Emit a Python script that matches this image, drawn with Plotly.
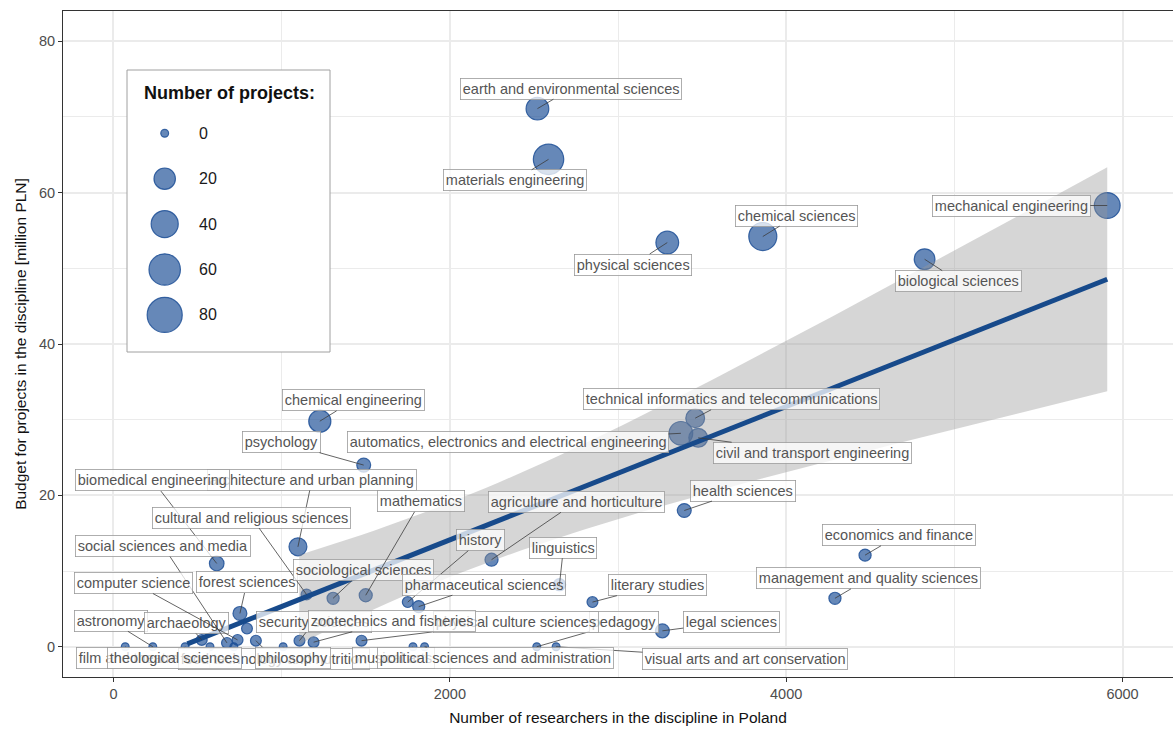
import numpy as np
import plotly.graph_objects as go

# ---------------------------------------------------------------------------
# Data: research disciplines in Poland
# (listed in the order their labels are stacked; later labels sit on top)
# ---------------------------------------------------------------------------
disciplines = [
    "film and theatre arts",
    "food technology and nutrition",
    "musical arts",
    "visual arts and art conservation",
    "theological sciences",
    "philosophy",
    "political sciences and administration",
    "architecture and urban planning",
    "biomedical engineering",
    "security sciences",
    "pedagogy",
    "physical culture sciences",
    "zootechnics and fisheries",
    "astronomy",
    "archaeology",
    "social sciences and media",
    "computer science",
    "forest sciences",
    "cultural and religious sciences",
    "sociological sciences",
    "mathematics",
    "history",
    "pharmaceutical sciences",
    "linguistics",
    "literary studies",
    "legal sciences",
    "agriculture and horticulture",
    "management and quality sciences",
    "economics and finance",
    "health sciences",
    "psychology",
    "chemical engineering",
    "automatics, electronics and electrical engineering",
    "technical informatics and telecommunications",
    "civil and transport engineering",
    "biological sciences",
    "physical sciences",
    "chemical sciences",
    "mechanical engineering",
    "materials engineering",
    "earth and environmental sciences",
    "canon law",
    "art sciences",
    "veterinary sciences",
]

researchers = [
    70, 847, 1781, 2632, 426, 1009, 1850, 1097, 614, 1106, 2517, 1475, 1190,
    234, 525, 675, 738, 752, 1148, 1306, 1500, 1750, 1815, 2652, 2848, 3264,
    2248, 4290, 4469, 3394, 1488, 1227, 3374, 3459, 3477, 4823, 3293, 3861,
    5909, 2587, 2521, 574, 716, 794,
]

budget_mln = [
    0.0, 0.8, 0.0, 0.0, 0.0, 0.0, 0.0, 13.2, 11.0, 0.8, 0.0, 0.8, 0.6,
    0.0, 0.9, 0.5, 0.9, 4.4, 6.9, 6.4, 6.8, 5.9, 5.3, 8.2, 5.9, 2.1,
    11.5, 6.4, 12.1, 18.0, 24.0, 29.8, 28.2, 30.2, 27.6, 51.2, 53.4, 54.2,
    58.3, 64.4, 71.1, 0.0, 0.0, 2.4,
]

projects = [
    0, 1, 0, 0, 0, 0, 0, 11, 5, 1, 0, 1, 1,
    0, 1, 1, 1, 4, 1, 2, 3, 1, 2, 2, 1, 4,
    3, 2, 2, 4, 4, 22, 27, 13, 13, 18, 24, 44,
    35, 55, 24, 0, 0, 1,
]

legend_counts = [0, 20, 40, 60, 80]

# Label placement: pixel offset of each label box centre from its point
label_offsets = {
    "earth and environmental sciences": (34, -20),
    "materials engineering": (-34, 21),
    "physical sciences": (-34, 22),
    "chemical sciences": (34, -21),
    "mechanical engineering": (-96, 0),
    "biological sciences": (34, 22),
    "chemical engineering": (34, -21),
    "psychology": (-82, -23),
    "automatics, electronics and electrical engineering": (-173, 9),
    "technical informatics and telecommunications": (36, -19),
    "civil and transport engineering": (114, 15),
    "biomedical engineering": (-64, -83),
    "architecture and urban planning": (14, -67),
    "cultural and religious sciences": (-55, -77),
    "mathematics": (55, -94),
    "agriculture and horticulture": (85, -58),
    "health sciences": (59, -20),
    "history": (73, -62),
    "social sciences and media": (-64, -97),
    "linguistics": (4, -37),
    "economics and finance": (34, -20),
    "sociological sciences": (30, -28),
    "management and quality sciences": (34, -20),
    "computer science": (-104, -57),
    "forest sciences": (7, -31),
    "pharmaceutical sciences": (65, -22),
    "literary studies": (65, -17),
    "astronomy": (-42, -26),
    "archaeology": (-15, -17),
    "security sciences": (15, -19),
    "zootechnics and fisheries": (78, -21),
    "physical culture sciences": (154, -19),
    "pedagogy": (87, -25),
    "legal sciences": (69, -9),
    "film and theatre arts": (18, 11),
    "theological sciences": (-11, 11),
    "philosophy": (10, 11),
    "food technology and nutrition": (18, 18),
    "musical arts": (-19, 11),
    "political sciences and administration": (71, 11),
    "visual arts and art conservation": (189, 12),
}

# ---------------------------------------------------------------------------
# Styling
# ---------------------------------------------------------------------------
FONT = "Liberation Sans, Arial, Helvetica, sans-serif"
POINT_FILL = "rgba(30,80,150,0.68)"
POINT_EDGE = "rgba(30,80,150,0.85)"
EDGE_W = 1.2
FIT_COLOR = "#174a8b"

X_LIM = (0, 6000)
Y_LIM = (0, 80)
X_RANGE = [-300, 6300]
Y_RANGE = [-4, 84]

PLOT_L, PLOT_T, PLOT_W, PLOT_H = 63, 11, 1110, 666


def bubble_diameter(n):
    """Area-style size scale: diameter grows with the square root of the count."""
    return 9.0 + 3.05 * np.sqrt(np.asarray(n, dtype=float))


def px_x(px):
    return (px - PLOT_L) / PLOT_W


def px_y(py):
    return (PLOT_T + PLOT_H - py) / PLOT_H


def t_quantile_975(df):
    """Two-sided 95% Student t quantile (Cornish-Fisher expansion)."""
    z = 1.959963984540054
    g1 = (z ** 3 + z) / 4
    g2 = (5 * z ** 5 + 16 * z ** 3 + 3 * z) / 96
    g3 = (3 * z ** 7 + 19 * z ** 5 + 17 * z ** 3 - 15 * z) / 384
    return z + g1 / df + g2 / df ** 2 + g3 / df ** 3


x = np.array(researchers, dtype=float)
y = np.array(budget_mln, dtype=float)
n_obs = len(x)

# ---------------------------------------------------------------------------
# Linear fit with 95% confidence band
# ---------------------------------------------------------------------------
slope, intercept = np.polyfit(x, y, 1)
resid = y - (intercept + slope * x)
s = np.sqrt(np.sum(resid ** 2) / (n_obs - 2))
sxx = np.sum((x - x.mean()) ** 2)
grid = np.linspace(x.min(), x.max(), 80)
fit = intercept + slope * grid
half = t_quantile_975(n_obs - 2) * s * np.sqrt(1 / n_obs + (grid - x.mean()) ** 2 / sxx)
lower, upper = fit - half, fit + half

line_ok = (fit >= Y_LIM[0]) & (fit <= Y_LIM[1])
band_ok = (lower >= Y_LIM[0]) & (upper <= Y_LIM[1])

fig = go.Figure()

fig.add_trace(go.Scatter(
    x=x, y=y, mode="markers",
    marker=dict(size=bubble_diameter(projects) - EDGE_W, color=POINT_FILL,
                opacity=1, line=dict(color=POINT_EDGE, width=EDGE_W)),
    text=disciplines, hoverinfo="text", showlegend=False,
))

gb = grid[band_ok]
fig.add_trace(go.Scatter(
    x=np.concatenate([gb, gb[::-1]]),
    y=np.concatenate([upper[band_ok], lower[band_ok][::-1]]),
    mode="lines", fill="toself", fillcolor="rgba(153,153,153,0.4)",
    line=dict(width=0), hoverinfo="skip", showlegend=False,
))

fig.add_trace(go.Scatter(
    x=grid[line_ok], y=fit[line_ok], mode="lines",
    line=dict(color=FIT_COLOR, width=5), hoverinfo="skip", showlegend=False,
))

# ---------------------------------------------------------------------------
# Repelled-style labels
# ---------------------------------------------------------------------------
annotations = []
for name, xv, yv in zip(disciplines, researchers, budget_mln):
    if name not in label_offsets:
        continue
    dx, dy = label_offsets[name]
    annotations.append(dict(
        x=xv, y=yv, xref="x", yref="y", text=name,
        showarrow=True, ax=dx, ay=dy, axref="pixel", ayref="pixel",
        arrowhead=0, arrowwidth=0.8, arrowcolor="#3c3c3c", standoff=0,
        font=dict(family=FONT, size=14.5, color="#555555"),
        bgcolor="rgba(255,255,255,0.75)", bordercolor="#9a9a9a",
        borderwidth=0.8, borderpad=2,
    ))

# ---------------------------------------------------------------------------
# Size legend
# ---------------------------------------------------------------------------
shapes = [dict(
    type="rect", xref="paper", yref="paper",
    x0=px_x(127), x1=px_x(330), y0=px_y(352), y1=px_y(70),
    fillcolor="white", line=dict(color="#a0a0a0", width=1), layer="above",
)]
annotations.append(dict(
    x=px_x(229), y=px_y(93), xref="paper", yref="paper",
    text="<b>Number of projects:</b>", showarrow=False,
    font=dict(family=FONT, size=18, color="#111111"),
    xanchor="center", yanchor="middle",
))
key_x = px_x(164.7)
for i, cnt in enumerate(legend_counts):
    ky = px_y(133.3 + 45.4 * i)
    r = (float(bubble_diameter(cnt)) - EDGE_W) / 2
    shapes.append(dict(
        type="circle", xref="paper", yref="paper",
        xsizemode="pixel", ysizemode="pixel", xanchor=key_x, yanchor=ky,
        x0=-r, x1=r, y0=-r, y1=r,
        fillcolor=POINT_FILL, line=dict(color=POINT_EDGE, width=EDGE_W),
        layer="above",
    ))
    annotations.append(dict(
        x=px_x(197), y=ky, xref="paper", yref="paper", text=str(cnt),
        showarrow=False, xanchor="left", yanchor="middle",
        font=dict(family=FONT, size=16, color="#1a1a1a"),
    ))

grid_col = "#ebebeb"
axis_common = dict(
    showline=True, linecolor="#333333", linewidth=1, mirror=True,
    ticks="outside", ticklen=4, tickwidth=1, tickcolor="#333333",
    showgrid=True, gridcolor=grid_col, gridwidth=1.5, zeroline=False,
    tickfont=dict(family=FONT, size=14.5, color="#4d4d4d"),
)

fig.update_layout(
    width=1173, height=729,
    margin=dict(l=PLOT_L, r=1173 - PLOT_L - PLOT_W, t=PLOT_T, b=729 - PLOT_T - PLOT_H),
    paper_bgcolor="white", plot_bgcolor="white",
    font=dict(family=FONT),
    showlegend=False,
    xaxis=dict(
        range=X_RANGE, tickvals=[0, 2000, 4000, 6000], tickformat="d",
        minor=dict(tickvals=[1000, 3000, 5000], showgrid=True, gridcolor=grid_col,
                   gridwidth=0.8, ticks=""),
        title=dict(text="Number of researchers in the discipline in Poland",
                   font=dict(family=FONT, size=15.5, color="#111111"), standoff=10),
        **axis_common,
    ),
    yaxis=dict(
        range=Y_RANGE, tickvals=[0, 20, 40, 60, 80],
        minor=dict(tickvals=[10, 30, 50, 70], showgrid=True, gridcolor=grid_col,
                   gridwidth=0.8, ticks=""),
        title=dict(text="Budget for projects in the discipline [million PLN]",
                   font=dict(family=FONT, size=15.5, color="#111111"), standoff=8),
        **axis_common,
    ),
    shapes=shapes,
    annotations=annotations,
)

fig.write_html("out.html")
